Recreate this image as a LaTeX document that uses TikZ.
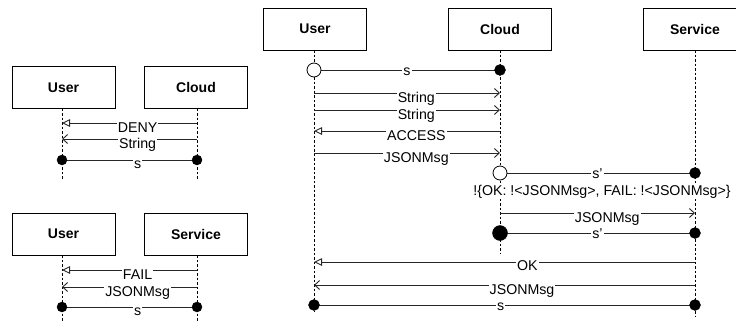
\documentclass[tikz,border=0pt]{standalone}
\usepackage{fontspec}
\setmainfont{Liberation Sans}
\usetikzlibrary{arrows.meta}
\tikzset{
  actor/.style={draw, line width=0.8pt, minimum width=103pt, minimum height=42pt, inner sep=0pt,
    font=\bfseries\fontsize{14}{16}\selectfont},
  life/.style={line width=0.6pt, dash pattern=on 2.5pt off 2pt},
  msg/.style={line width=0.9pt, draw=black!85},
  lbl/.style={fill=white, inner sep=1pt, anchor=base, font=\fontsize{14.2}{16}\selectfont},
  tri/.style={-{Triangle[open,length=8pt,width=7.5pt]}},
  barb/.style={-{Straight Barb[length=5pt,width=9pt]}},
  dotf/.style={circle, fill=black, draw=black, inner sep=0pt, minimum size=#1},
  dotf/.default=11pt,
  doto/.style={circle, fill=white, draw=black, line width=0.8pt, inner sep=0pt, minimum size=14pt},
}
\begin{document}
\begin{tikzpicture}[x=1pt,y=-1pt]
\useasboundingbox (0,0) rectangle (736,322);
% ---------- left top ----------
\node[actor] (lu1) at (63.5,87.5) {User};
\node[actor] (lc1) at (196,87.5) {Cloud};
\coordinate (lu1e) at (62,180);
\coordinate (lc1e) at (197,180);
\draw[life] (62,108.5) -- (lu1e);
\draw[life] (197,108.5) -- (lc1e);
\coordinate (a1) at (197,123); \coordinate (b1) at (62,123);
\coordinate (a2) at (197,139); \coordinate (b2) at (62,139);
\coordinate (a3) at (62,160); \coordinate (b3) at (197,160);
\draw[msg,tri] (a1) -- node[lbl,pos=0.44,yshift=-9pt]{DENY} (b1);
\draw[msg,barb] (a2) -- node[lbl,pos=0.44,yshift=-9pt]{String} (b2);
\draw[msg] (a3) -- node[lbl,pos=0.56,yshift=-8pt]{s} (b3);
\node[dotf=10pt] (d1) at (a3) {};
\node[dotf=10pt] (d2) at (b3) {};
% ---------- left bottom ----------
\node[actor] (lu2) at (63.5,234) {User};
\node[actor] (ls2) at (196,234) {Service};
\coordinate (lu2e) at (62,322);
\coordinate (ls2e) at (197,322);
\draw[life] (62,255) -- (lu2e);
\draw[life] (197,255) -- (ls2e);
\coordinate (c1) at (197,270); \coordinate (e1) at (62,270);
\coordinate (c2) at (197,287); \coordinate (e2) at (62,287);
\coordinate (c3) at (62,307); \coordinate (e3) at (197,307);
\draw[msg,tri] (c1) -- node[lbl,pos=0.44,yshift=-9pt]{FAIL} (e1);
\draw[msg,barb] (c2) -- node[lbl,pos=0.44,yshift=-9pt]{JSONMsg} (e2);
\draw[msg] (c3) -- node[lbl,pos=0.56,yshift=-8pt]{s} (e3);
\node[dotf=10pt] (d3) at (c3) {};
\node[dotf=10pt] (d4) at (e3) {};
% ---------- main ----------
\node[actor] (mu) at (315,29) {User};
\node[actor] (mc) at (500,29) {Cloud};
\node[actor] (ms) at (695,29) {Service};
\coordinate (mue) at (314,312);
\coordinate (mce) at (500,253);
\coordinate (mse) at (695,316);
\draw[life] (314,50) -- (mue);
\draw[life] (500,50) -- (mce);
\draw[life] (695,50) -- (mse);
% rows
\coordinate (u1) at (314,70);  \coordinate (k1) at (500,70);
\coordinate (u2) at (314,93);  \coordinate (k2) at (500,93);
\coordinate (u3) at (314,110); \coordinate (k3) at (500,110);
\coordinate (u4) at (314,131); \coordinate (k4) at (500,131);
\coordinate (u5) at (314,153); \coordinate (k5) at (500,153);
\coordinate (k6) at (500,173); \coordinate (s6) at (695,173);
\coordinate (k7) at (500,213); \coordinate (s7) at (695,213);
\coordinate (k8) at (500,233); \coordinate (s8) at (695,233);
\coordinate (s9) at (695,262); \coordinate (u9) at (314,262);
\coordinate (s10) at (695,285); \coordinate (u10) at (314,285);
\coordinate (u11) at (314,305); \coordinate (s11) at (695,305);
\draw[msg] (u1) -- node[lbl,pos=0.5,yshift=-5pt]{s} (k1);
\node[doto] (o1) at (u1) {};
\node[dotf] (f1) at (k1) {};
\draw[msg,barb] (u2) -- node[lbl,pos=0.55,yshift=-9pt]{String} (k2);
\draw[msg,barb] (u3) -- node[lbl,pos=0.55,yshift=-9pt]{String} (k3);
\draw[msg,tri] (k4) -- node[lbl,pos=0.45,yshift=-9pt]{ACCESS} (u4);
\draw[msg,barb] (u5) -- node[lbl,pos=0.55,yshift=-9pt]{JSONMsg} (k5);
\draw[msg] (k6) -- node[lbl,pos=0.5,yshift=-5pt]{s'} (s6);
\node[doto] (o2) at (k6) {};
\node[dotf] (f2) at (s6) {};
\node[lbl] (cho) at (602,195) {!\{OK: !<JSONMsg>, FAIL: !<JSONMsg>\}};
\draw[msg,barb] (k7) -- node[lbl,pos=0.55,yshift=-9pt]{JSONMsg} (s7);
\draw[msg] (k8) -- node[lbl,pos=0.5,yshift=-5pt]{s'} (s8);
\node[dotf=15pt] (f3) at (k8) {};
\node[dotf] (f4) at (s8) {};
\draw[msg,tri] (s9) -- node[lbl,pos=0.44,yshift=-8pt]{OK} (u9);
\draw[msg,barb] (s10) -- node[lbl,pos=0.454,yshift=-9pt]{JSONMsg} (u10);
\draw[msg] (u11) -- node[lbl,pos=0.49,yshift=-5pt]{s} (s11);
\node[dotf] (f5) at (u11) {};
\node[dotf] (f6) at (s11) {};
\end{tikzpicture}
\end{document}
